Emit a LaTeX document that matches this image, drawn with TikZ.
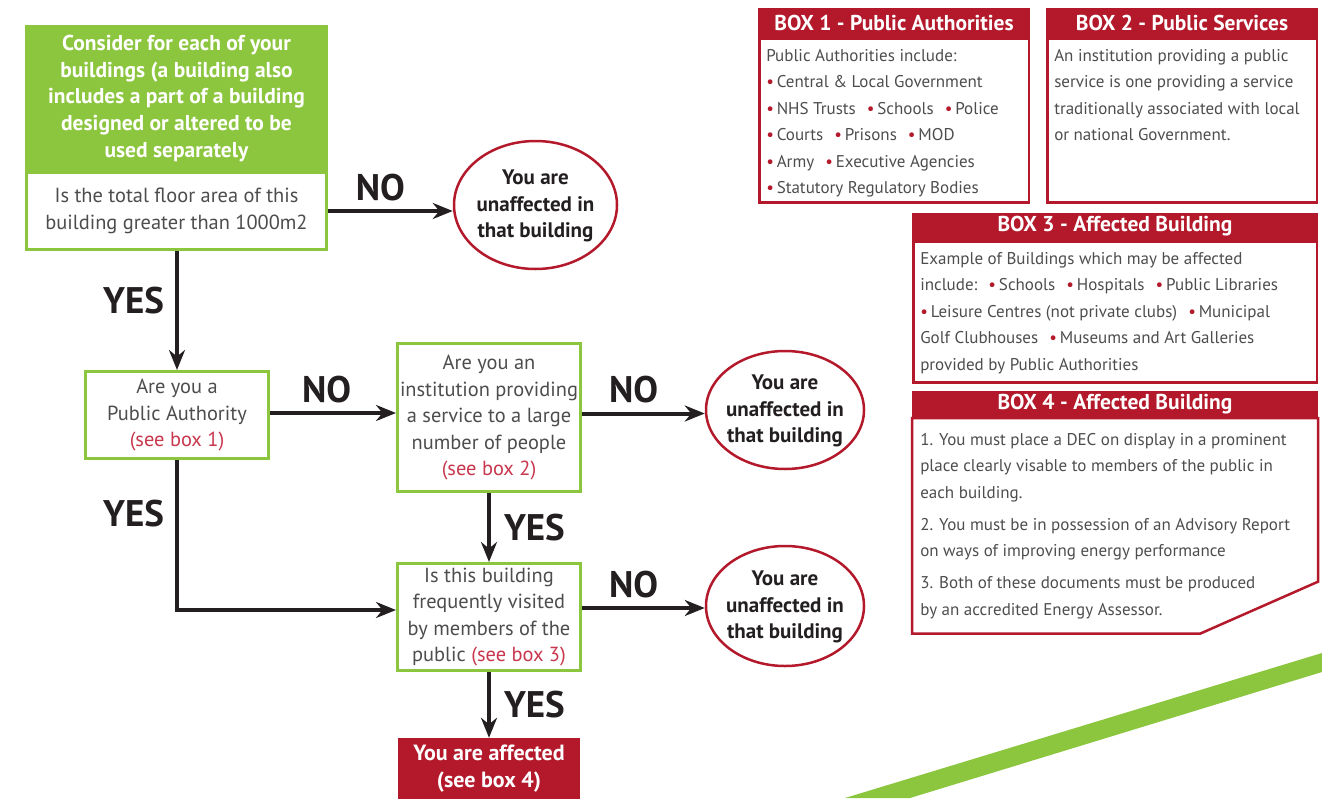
\documentclass[tikz,border=0pt]{standalone}
\usepackage{fontspec}
\setmainfont{PT Sans}
\usetikzlibrary{arrows.meta,shapes.geometric,positioning}
\definecolor{boxred}{HTML}{B3192B}
\definecolor{boxgreen}{HTML}{8CC63F}
\definecolor{textgrey}{HTML}{4D4D4D}
\definecolor{linkred}{HTML}{C8374D}
\definecolor{textdark}{HTML}{231F20}
\newcommand{\bul}{\textcolor{boxred}{•}\,}
\newcommand{\gap}{\hspace{0.65em}}
\newcommand{\seebox}[1]{\textcolor{linkred}{(see box #1)}}
\newcommand{\panelbody}[3]{\parbox[c][#1][t]{#2}{\fontsize{17}{26.5}\selectfont\strut #3\par}}
\newcommand{\outtext}{\makebox[0pt]{\raisebox{-6pt}[0pt][0pt]{\fontsize{21}{26.5}\selectfont\bfseries
  \begin{tabular}{@{}c@{}}You are\\unaffected in\\that building\end{tabular}}}}
\tikzset{
  flowtext/.style = {font=\fontsize{20.4}{26.5}\selectfont, text=textgrey, align=center},
  question/.style = {flowtext, draw=boxgreen, line width=3pt, fill=white, inner sep=0pt,
                     minimum width=183},
  start/.style    = {fill=boxgreen, text=white, align=center, inner sep=0pt,
                     font=\fontsize{21.5}{26.8}\selectfont\bfseries},
  outcome/.style  = {ellipse, draw=boxred, line width=2.5pt, text=textdark, inner sep=0pt},
  affected/.style = {fill=boxred, text=white, align=center, inner sep=0pt,
                     font=\fontsize{22}{27}\selectfont\bfseries},
  yesno/.style    = {font=\fontsize{37}{37}\selectfont\bfseries, text=textdark, inner sep=2pt},
  arr/.style      = {line width=4pt, textdark, -{Stealth[length=20pt, width=16pt]}},
  hdrbar/.style   = {fill=boxred, text=white, inner sep=0pt,
                     font=\fontsize{21.5}{22}\selectfont\bfseries},
  panel/.style    = {draw=boxred, line width=2.5pt, text=textgrey, inner xsep=7pt,
                     inner ysep=4pt, anchor=north}
}

\begin{document}
\begin{tikzpicture}[x=1pt, y=-1pt]
\useasboundingbox (0,0) rectangle (1322,798);

% green stripe in the corner
\fill[boxgreen] (845,798) -- (910,798) -- (1322,672) -- (1322,653) -- cycle;

% the flow, questions
\node[start, minimum width=303, minimum height=147] (start) at (176.5,98.5)
  {Consider for each of your\\buildings (a building also\\includes a part of a building\\designed or altered to be\\used separately};
\node[question, minimum width=300, minimum height=77] (area) at (176.5,211)
  {Is the total floor area of this\\building greater than 1000m2};
\node[question, minimum height=87] (auth) at (177,415)
  {Are you a\\Public Authority\\\seebox{1}};
\node[question, minimum height=148] (svc) at (489,417.5)
  {Are you an\\institution providing\\a service to a large\\number of people\\\seebox{2}};
\node[question, minimum height=107] (visit) at (489,617)
  {Is this building\\frequently visited\\by members of the\\public \seebox{3}};
\node[affected, minimum width=182, minimum height=62] (affected) at (489,769)
  {You are affected\\(see box 4)};

% the flow, outcomes
\node[outcome, minimum width=163, minimum height=128] (out1) at (535.5,205) {\outtext};
\node[outcome, minimum width=158, minimum height=118] (out2) at (785,410) {\outtext};
\node[outcome, minimum width=158, minimum height=120] (out3) at (785,606) {\outtext};

% connectors
\draw[arr] (area.east) -- node[yesno, pos=0.42, above=6pt] (no1) {NO} (area.east -| out1.west);
\draw[arr] (area.south -| auth.north) -- node[yesno, pos=0.42, left=9pt] (yes1) {YES} (auth.north);
\draw[arr] ([yshift=2pt]auth.east) -- node[yesno, pos=0.45, above=6pt] (no2) {NO} ([yshift=2pt]auth.east -| svc.west);
\draw[arr] ([yshift=4pt]svc.east) -- node[yesno, pos=0.42, above=6pt] (no3) {NO} ([yshift=4pt]svc.east -| out2.west);
\draw[arr] (svc.south) -- node[yesno, pos=0.5, right=11pt] (yes2) {YES} (visit.north);
\draw[arr] (auth.south) |- node[yesno, pos=0.18, left=9pt] (yes3) {YES} ([yshift=7pt]visit.west);
\draw[arr] ([yshift=9pt]visit.east) -- node[yesno, pos=0.42, above=6pt] (no4) {NO} ([yshift=9pt]visit.east -| out3.west);
\draw[arr] (visit.south) -- node[yesno, pos=0.5, right=11pt] (yes4) {YES} (affected.north);

% box 1 and box 2
\node[hdrbar, minimum width=272, minimum height=29] (hdr1) at (894,22.5) {BOX 1 - Public Authorities};
\node[panel] (body1) at (hdr1.south) {\panelbody{156pt}{255.5pt}{%
  Public Authorities include:\par
  \bul Central \& Local Government\par
  \bul NHS Trusts\gap\bul Schools\gap\bul Police\par
  \bul Courts\gap\bul Prisons\gap\bul MOD\par
  \bul Army\gap\bul Executive Agencies\par
  \bul Statutory Regulatory Bodies}};
\node[hdrbar, minimum width=272, minimum height=29] (hdr2) at (1182,22.5) {BOX 2 - Public Services};
\node[panel] (body2) at (hdr2.south) {\panelbody{156pt}{255.5pt}{%
  An institution providing a public\par
  service is one providing a service\par
  traditionally associated with local\par
  or national Government.}};

% box 3 and box 4
\node[hdrbar, minimum width=406, minimum height=27] (hdr3) at (1115,226.5) {BOX 3 - Affected Building};
\node[panel] (body3) at (hdr3.south) {\panelbody{133pt}{389.5pt}{%
  Example of Buildings which may be affected\par
  include:\gap\bul Schools\gap\bul Hospitals\gap\bul Public Libraries\par
  \bul Leisure Centres (not private clubs)\gap\bul Municipal\par
  Golf Clubhouses\gap\bul Museums and Art Galleries\par
  provided by Public Authorities}};
\node[hdrbar, minimum width=406, minimum height=27] (hdr4) at (1115,404.5) {BOX 4 - Affected Building};
\node[panel, draw=none, inner ysep=7pt] (body4) at (hdr4.south) {\panelbody{199pt}{389.5pt}{%
  \setlength{\parskip}{5.5pt}%
  1. You must place a DEC on display in a prominent\\
  place clearly visable to members of the public in\\
  each building.\par
  2. You must be in possession of an Advisory Report\\
  on ways of improving energy performance\par
  3. Both of these documents must be produced\\
  by an accredited Energy Assessor.}};
\draw[boxred, line width=2.5pt] (body4.north west) -- (body4.north east)
  -- ([yshift=52pt]body4.south east) -- ([xshift=-118pt]body4.south east)
  -- (body4.south west) -- cycle;
\end{tikzpicture}
\end{document}
